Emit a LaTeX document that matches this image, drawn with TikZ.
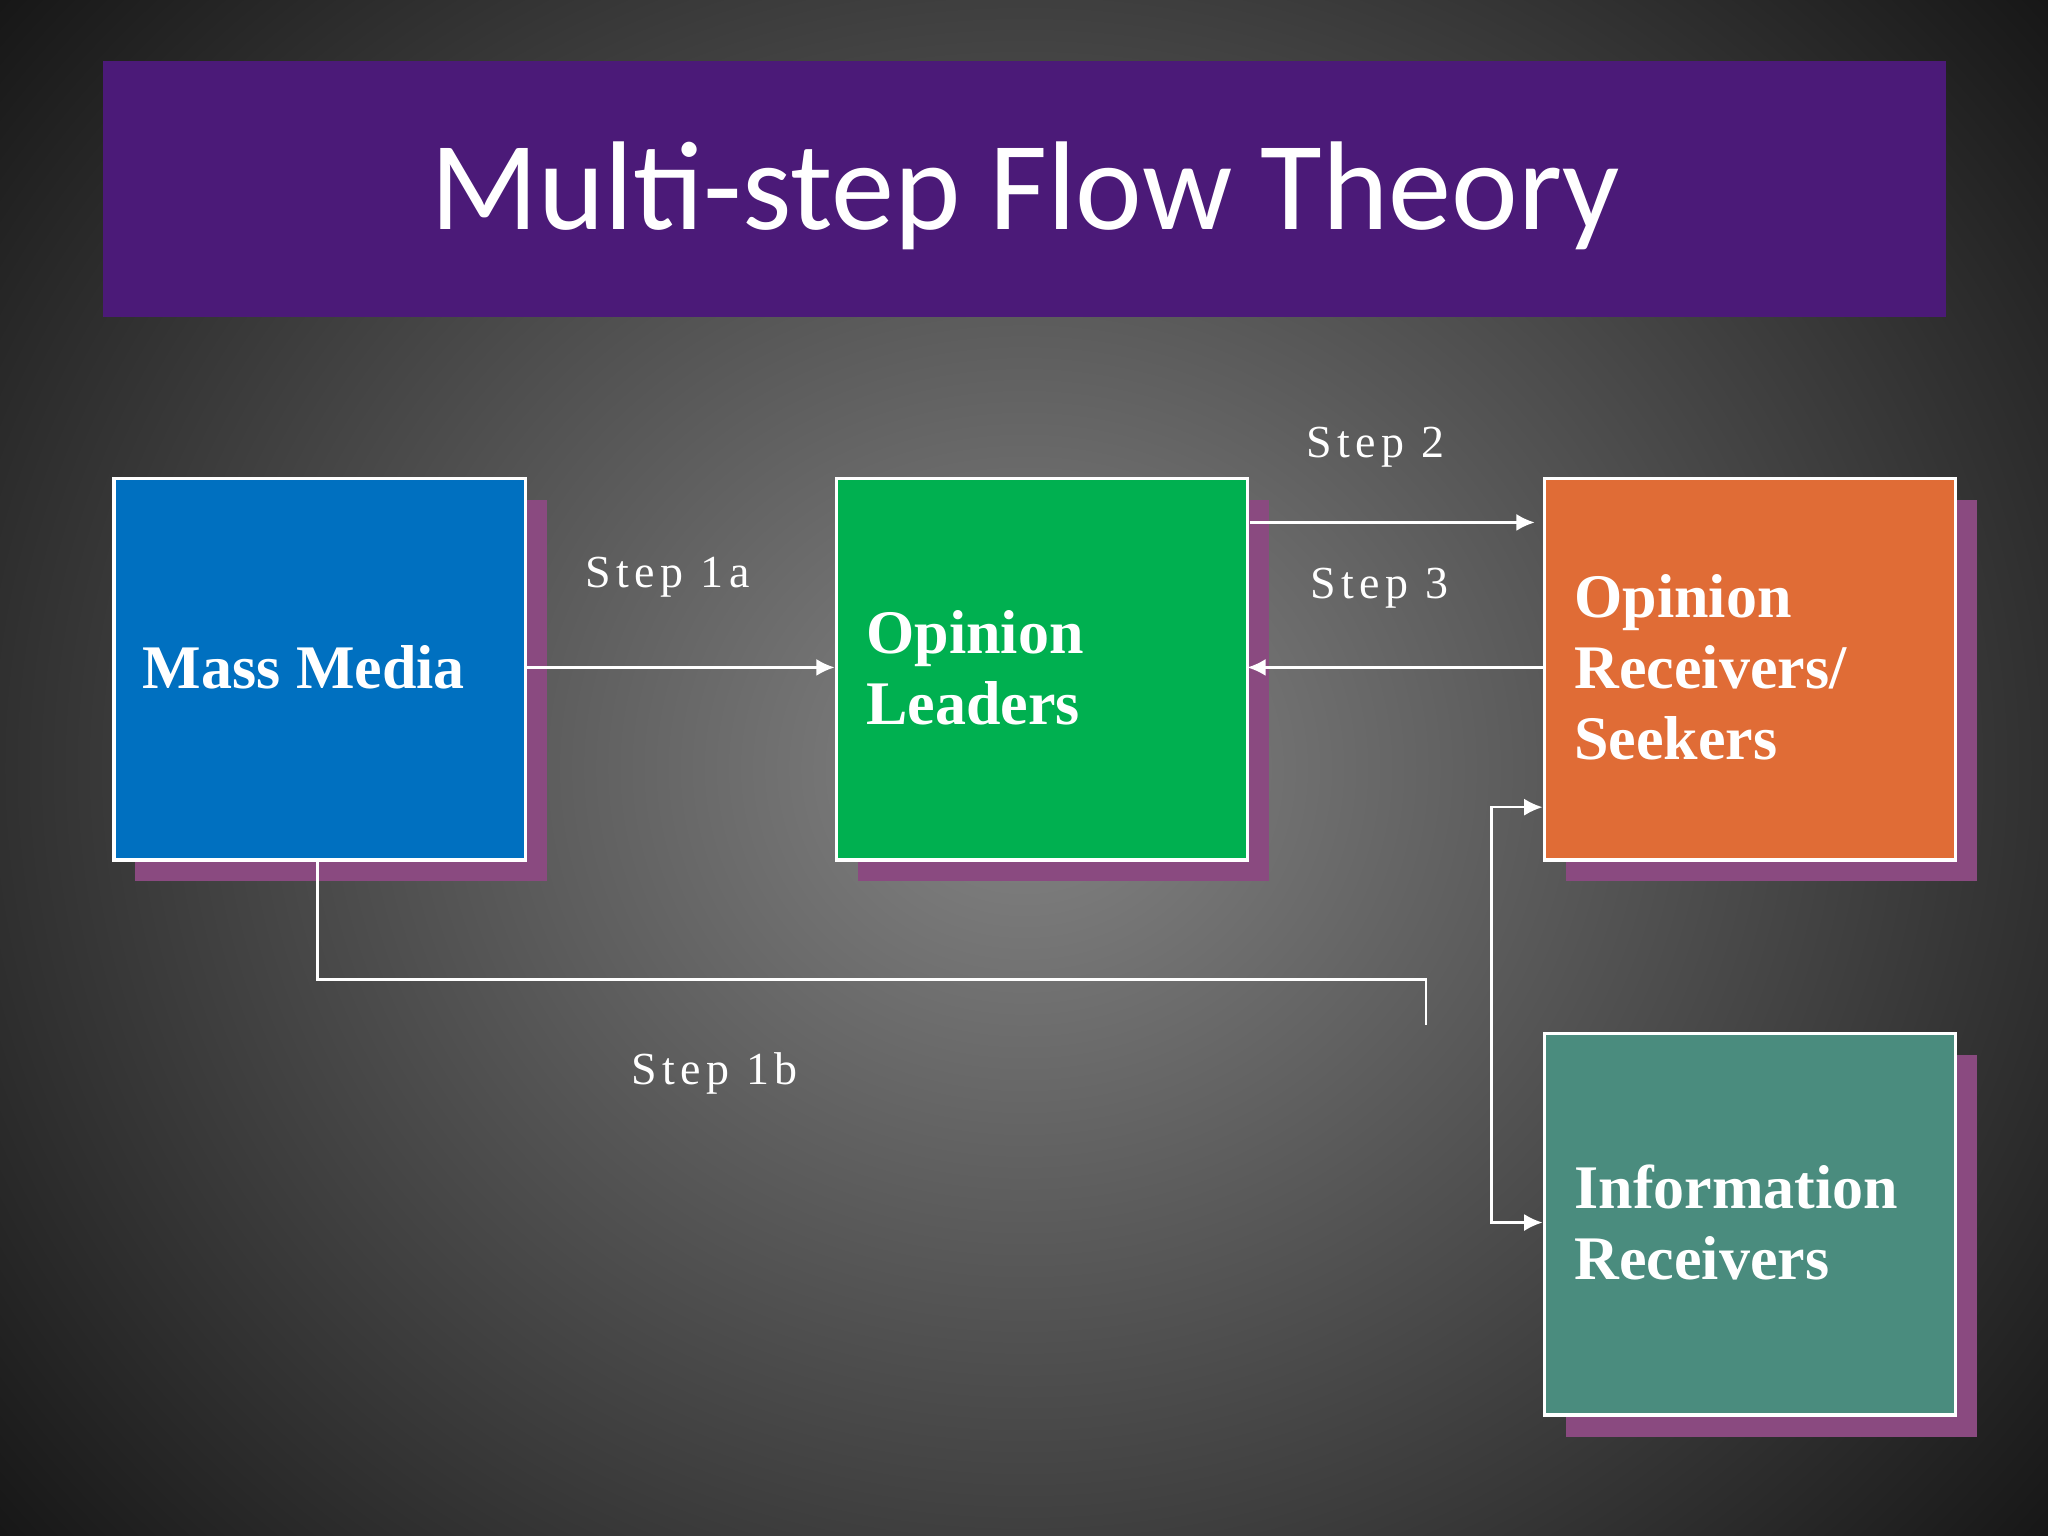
\documentclass[tikz,border=0pt]{standalone}
\usepackage{fontspec}
\setmainfont{Liberation Serif}
\newfontfamily\titlefont{Carlito}
\usetikzlibrary{shadings,arrows.meta}
\definecolor{bgc}{HTML}{858585}
\definecolor{bge}{HTML}{151515}
\definecolor{titlec}{HTML}{4B1A78}
\definecolor{shad}{HTML}{8A4A80}
\definecolor{mblue}{HTML}{0070C0}
\definecolor{mgreen}{HTML}{00B050}
\definecolor{morange}{HTML}{E06C36}
\definecolor{mteal}{HTML}{4A8C7E}
\tikzset{
 box/.style={draw=white,line width=0.7pt,minimum width=3.15cm,minimum height=2.92cm,anchor=north west,inner sep=0pt},
 shbox/.style={fill=shad,minimum width=3.15cm,minimum height=2.92cm,anchor=north west,inner sep=0pt},
 btxt/.style={anchor=west,align=left,text=white,font=\bfseries\fontsize{13.5}{15.5}\selectfont},
 lab/.style={text=white,font=\fontsize{10}{12}\selectfont\addfontfeature{LetterSpace=12}},
 con/.style={draw=white,line width=0.5pt},
 arr/.style={con,-{Latex[length=1.4mm,width=1.3mm]}}
}
\begin{document}
\begin{tikzpicture}[x=0.01cm,y=-0.01cm]
\useasboundingbox (0,0) rectangle (1568,1176);
\begin{scope}
\clip (0,0) rectangle (1568,1176);
\shade[inner color=bgc,outer color=bge] (-250,-350) rectangle (1818,1526);
\end{scope}
\fill[titlec] (79,47) rectangle (1490,243);
\node[text=white,font=\titlefont\fontsize{27.5}{30}\selectfont] (title) at (785,150) {Multi-step Flow Theory};
\node[shbox] at (103,382) {};
\node[shbox] at (656,382) {};
\node[shbox] at (1198,382) {};
\node[shbox] at (1198,807) {};
\node[box,fill=mblue] (mm) at (86,365) {};
\node[btxt] (mmt) at (97,511) {Mass Media};
\node[box,fill=mgreen] (ol) at (639,365) {};
\node[btxt] (olt) at (651,511) {Opinion\\Leaders};
\node[box,fill=morange] (or) at (1181,365) {};
\node[btxt] (ort) at (1193,511) {Opinion\\Receivers/\\Seekers};
\node[box,fill=mteal] (ir) at (1181,790) {};
\node[btxt] (irt) at (1193,936) {Information\\Receivers};
\coordinate (a1) at (401,511); \coordinate (a2) at (639,511);
\draw[arr] (a1) -- (a2);
\coordinate (b1) at (957,400); \coordinate (b2) at (1175,400);
\draw[arr] (b1) -- (b2);
\coordinate (c1) at (1181,511); \coordinate (c2) at (955,511);
\draw[arr] (c1) -- (c2);
\coordinate (d1) at (243,657); \coordinate (d2) at (1092,785);
\draw[con] (d1) |- (1092,750) -- (d2);
\coordinate (e0) at (1142,618); \coordinate (e1) at (1142,936);
\draw[arr] (e1) -- (e0) -- (1181,618);
\draw[arr] (e0) -- (e1) -- (1181,936);
\node[lab] (s2) at (1053,342) {Step 2};
\node[lab] (s3) at (1056,450) {Step 3};
\node[lab] (s1a) at (511,442) {Step 1a};
\node[lab] (s1b) at (547,822) {Step 1b};
\end{tikzpicture}
\end{document}
